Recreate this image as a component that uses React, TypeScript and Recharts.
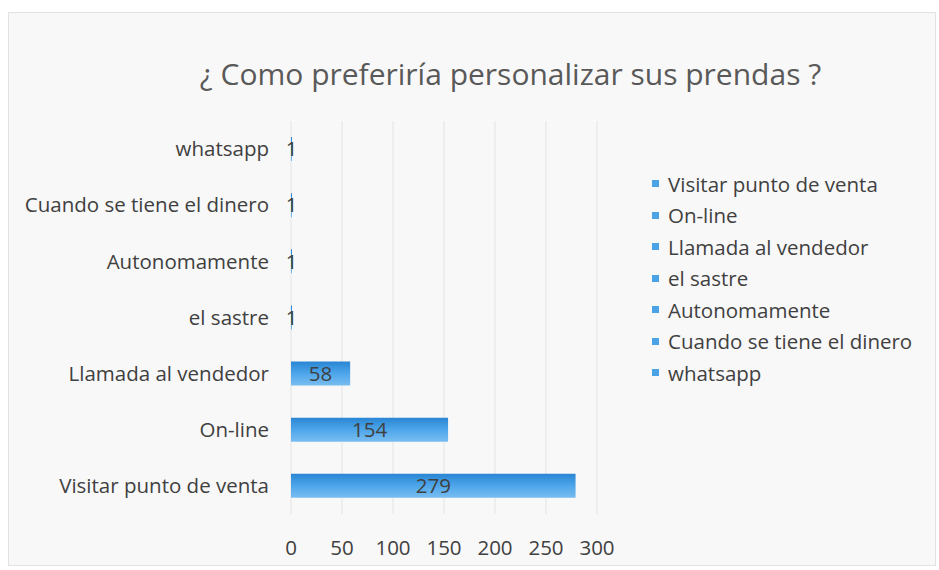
import React from 'react';
import { BarChart, Bar, XAxis, YAxis, CartesianGrid, LabelList } from 'recharts';

// categories in the order Excel lists them (first one ends up at the bottom)
const categories = [
  'Visitar punto de venta',
  'On-line',
  'Llamada al vendedor',
  'el sastre',
  'Autonomamente',
  'Cuando se tiene el dinero',
  'whatsapp',
];
const counts = [279, 154, 58, 1, 1, 1, 1];
const xTicks = [0, 50, 100, 150, 200, 250, 300];

const data = categories.map((name, i) => ({ name, value: counts[i] }));

const FONT = '"Open Sans", sans-serif';
const TEXT = '#404040';
const FS = 20.5;

const App: React.FC = () => {
  return (
    <div
      style={{
        position: 'absolute',
        left: 0,
        top: 0,
        width: 939,
        height: 570,
        background: '#ffffff',
      }}
    >
      <div
        style={{
          position: 'absolute',
          left: 8,
          top: 12,
          width: 926,
          height: 552,
          background: '#f8f8f8',
          border: '1px solid #e2e2e2',
        }}
      />
      <div
        style={{
          position: 'absolute',
          left: 0,
          width: 939,
          top: 53,
          textAlign: 'center',
          paddingLeft: 82,
          boxSizing: 'border-box',
          fontFamily: FONT,
          fontSize: 30,
          color: '#595959',
        }}
      >
        ¿ Como preferiría personalizar sus prendas ?
      </div>
      <div style={{ position: 'absolute', left: 0, top: 0 }}>
        <BarChart
          width={939}
          height={570}
          data={data}
          layout="vertical"
          margin={{ top: 121, right: 342, bottom: 16, left: 4 }}
        >
          <defs>
            <linearGradient id="barFill" x1="0" y1="0" x2="0" y2="1">
              <stop offset="0%" stopColor="#2a86d4" />
              <stop offset="50%" stopColor="#4ea6ea" />
              <stop offset="100%" stopColor="#79bdf0" />
            </linearGradient>
          </defs>
          <CartesianGrid horizontal={false} stroke="#e3e3e3" />
          <XAxis
            type="number"
            domain={[0, 300]}
            ticks={xTicks}
            axisLine={false}
            tickLine={false}
            tickSize={0}
            tickMargin={26}
            height={40}
            tick={{ fill: TEXT, fontSize: FS, fontFamily: FONT }}
          />
          <YAxis
            type="category"
            dataKey="name"
            reversed
            width={287}
            axisLine={false}
            tickLine={false}
            tickSize={0}
            tickMargin={22}
            tick={{ fill: TEXT, fontSize: FS, fontFamily: FONT }}
          />
          <Bar dataKey="value" fill="url(#barFill)" barSize={24} isAnimationActive={false}>
            <LabelList
              dataKey="value"
              position="center"
              fill={TEXT}
              style={{ fontSize: FS, fontFamily: FONT }}
            />
          </Bar>
        </BarChart>
      </div>
      <div
        style={{
          position: 'absolute',
          left: 652,
          top: 168,
          fontFamily: FONT,
          fontSize: FS,
          color: TEXT,
        }}
      >
        {categories.map((c) => (
          <div key={c} style={{ display: 'flex', alignItems: 'center', height: 31.5 }}>
            <span
              style={{
                display: 'inline-block',
                width: 7,
                height: 7,
                background: '#4aa3e6',
                marginRight: 9,
              }}
            />
            <span>{c}</span>
          </div>
        ))}
      </div>
    </div>
  );
};

export default App;
